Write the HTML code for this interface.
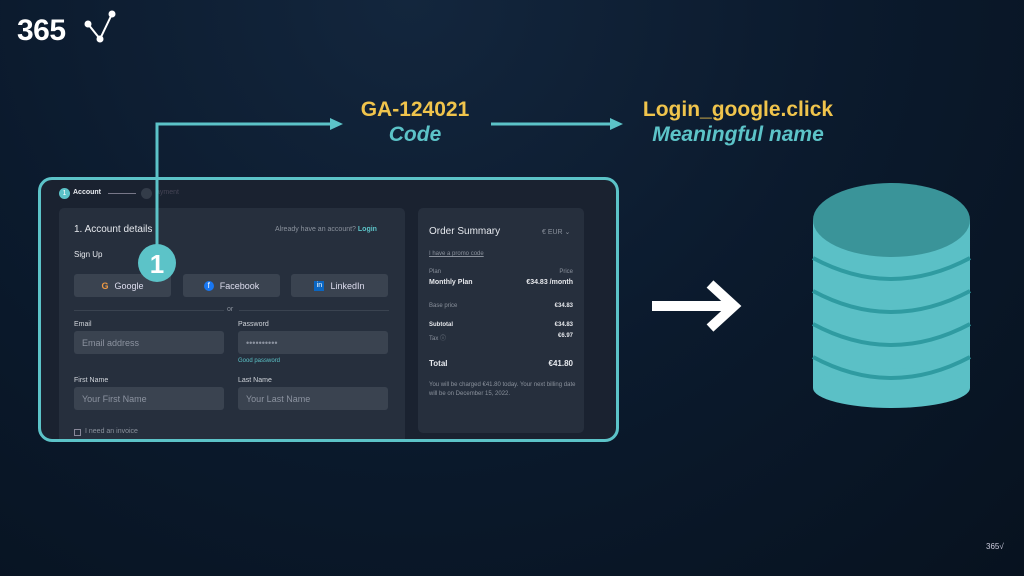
<!DOCTYPE html>
<html><head><style>
*{margin:0;padding:0;box-sizing:border-box}
body{width:1024px;height:576px;overflow:hidden;background:radial-gradient(ellipse at 40% 0%,#13263d 0%,#0b1a2d 50%,#07121f 100%);font-family:"Liberation Sans",sans-serif;position:relative;color:#e6e9ee}
.a{position:absolute}
.panel{left:38px;top:177px;width:581px;height:265px;border:3px solid #5cc3c8;border-radius:14px;background:#1a2230;overflow:hidden}
.card{background:#262f3d;border-radius:5px}
.btn{background:#3a4350;border-radius:3px;height:23px;font-size:9px;color:#dde;display:flex;align-items:center;justify-content:center;gap:6px}
.inp{background:#3a4350;border-radius:3px;height:23px;font-size:9px;color:#8c93a0;padding-left:8px;display:flex;align-items:center}
.lbl{font-size:7px;color:#d0d4da}
.s{font-size:7px;color:#8a919c}
.w{font-size:7px;color:#e6e8ec;font-weight:bold}
</style></head><body>
<div class="a" style="left:17px;top:14px;font-size:30px;font-weight:bold;color:#fff;letter-spacing:-0.5px">365</div>
<svg class="a" style="left:78px;top:6px" width="40" height="40"><path d="M10 18 L22 33 L34 8" stroke="#fff" stroke-width="2" fill="none"/><circle cx="10" cy="18" r="3.5" fill="#fff"/><circle cx="22" cy="33" r="3.5" fill="#fff"/><circle cx="34" cy="8" r="3.5" fill="#fff"/></svg>

<div class="a" style="left:340px;top:98px;width:150px;text-align:center;font-size:21px;font-weight:bold;color:#f0c44c">GA-124021</div>
<div class="a" style="left:340px;top:123px;width:150px;text-align:center;font-size:21px;font-weight:bold;font-style:italic;color:#5cc3c8">Code</div>
<div class="a" style="left:618px;top:98px;width:240px;text-align:center;font-size:21px;font-weight:bold;color:#f0c44c">Login_google.click</div>
<div class="a" style="left:618px;top:123px;width:240px;text-align:center;font-size:21px;font-weight:bold;font-style:italic;color:#5cc3c8">Meaningful name</div>

<div class="a panel">
 <div class="a" style="left:18px;top:8px;width:11px;height:11px;border-radius:50%;background:#5cc3c8;font-size:7px;color:#fff;text-align:center;line-height:11px">1</div>
 <div class="a" style="left:32px;top:9px;font-size:7px;font-weight:bold">Account</div>
 <div class="a" style="left:67px;top:13px;width:28px;height:1px;background:#778"></div>
 <div class="a" style="left:100px;top:8px;width:11px;height:11px;border-radius:50%;background:#333c49"></div>
 <div class="a" style="left:115px;top:9px;font-size:7px;color:#445">ayment</div>
 <div class="a card" style="left:18px;top:28px;width:346px;height:240px">
  <div class="a" style="left:15px;top:16px;font-size:10px">1. Account details</div>
  <div class="a s" style="left:216px;top:18px">Already have an account? <b style="color:#5cc3c8">Login</b></div>
  <div class="a" style="left:15px;top:42px;font-size:8px">Sign Up</div>
  <div class="a btn" style="left:15px;top:66px;width:97px"><b style="color:#e94">G</b>Google</div>
  <div class="a btn" style="left:124px;top:66px;width:97px"><span style="background:#1877f2;border-radius:50%;width:10px;height:10px;font-size:8px;line-height:10px;text-align:center;color:#fff">f</span>Facebook</div>
  <div class="a btn" style="left:232px;top:66px;width:97px"><span style="background:#0a66c2;width:10px;height:10px;font-size:7px;line-height:10px;text-align:center;color:#fff">in</span>LinkedIn</div>
  <div class="a" style="left:15px;top:102px;width:150px;height:1px;background:#3a4350"></div>
  <div class="a s" style="left:168px;top:98px">or</div>
  <div class="a" style="left:180px;top:102px;width:150px;height:1px;background:#3a4350"></div>
  <div class="a lbl" style="left:15px;top:113px">Email</div>
  <div class="a lbl" style="left:179px;top:113px">Password</div>
  <div class="a inp" style="left:15px;top:123px;width:150px">Email address</div>
  <div class="a inp" style="left:179px;top:123px;width:150px">••••••••••</div>
  <div class="a" style="left:179px;top:150px;font-size:6px;color:#5cc3c8">Good password</div>
  <div class="a lbl" style="left:15px;top:169px">First Name</div>
  <div class="a lbl" style="left:179px;top:169px">Last Name</div>
  <div class="a inp" style="left:15px;top:179px;width:150px">Your First Name</div>
  <div class="a inp" style="left:179px;top:179px;width:150px">Your Last Name</div>
  <div class="a" style="left:15px;top:221px;width:7px;height:7px;border:1px solid #889"></div>
  <div class="a s" style="left:26px;top:220px">I need an invoice</div>
 </div>
 <div class="a card" style="left:377px;top:28px;width:166px;height:225px">
  <div class="a" style="left:11px;top:18px;font-size:10px">Order Summary</div>
  <div class="a s" style="left:124px;top:20px">€ EUR ⌄</div>
  <div class="a s" style="left:11px;top:43px;font-size:6px;text-decoration:underline">I have a promo code</div>
  <div class="a s" style="left:11px;top:61px;font-size:6px">Plan</div><div class="a s" style="right:11px;top:61px;font-size:6px">Price</div>
  <div class="a w" style="left:11px;top:71px">Monthly Plan</div><div class="a w" style="right:11px;top:71px">€34.83 /month</div>
  <div class="a s" style="left:11px;top:95px;font-size:6px">Base price</div><div class="a w" style="right:11px;top:95px;font-size:6px">€34.83</div>
  <div class="a w" style="left:11px;top:114px;font-size:6px">Subtotal</div><div class="a w" style="right:11px;top:114px;font-size:6px">€34.83</div>
  <div class="a s" style="left:11px;top:125px;font-size:6px">Tax ⓘ</div><div class="a w" style="right:11px;top:125px;font-size:6px">€6.97</div>
  <div class="a" style="left:11px;top:151px;font-size:8px;font-weight:bold">Total</div><div class="a" style="right:11px;top:151px;font-size:8px;font-weight:bold">€41.80</div>
  <div class="a s" style="left:11px;top:173px;width:150px;font-size:6px;line-height:9px">You will be charged €41.80 today. Your next billing date will be on December 15, 2022.</div>
 </div>
</div>

<svg class="a" style="left:0;top:0" width="1024" height="576">
 <path d="M157 250 V124 H332" stroke="#5cc3c8" stroke-width="3" fill="none"/>
 <polygon points="330,118 343,124 330,130" fill="#5cc3c8"/>
 <path d="M491 124 H612" stroke="#5cc3c8" stroke-width="3" fill="none"/>
 <polygon points="610,118 623,124 610,130" fill="#5cc3c8"/>
 <circle cx="157" cy="263" r="19" fill="#5cc3c8"/>
 <text x="157" y="273" text-anchor="middle" font-family="Liberation Sans" font-weight="bold" font-size="26" fill="#fff">1</text>
 <path d="M652 306 H730 M710 284 L734 306 L710 328" stroke="#fff" stroke-width="10" fill="none"/>
 <rect x="813" y="220" width="157" height="168" fill="#5bc0c6"/>
 <ellipse cx="891.5" cy="388" rx="78.5" ry="20" fill="#5bc0c6"/>
 <g stroke="#2f9ba1" stroke-width="4" fill="none">
  <path d="M813 258 Q891 300 970 258"/><path d="M813 291 Q891 333 970 291"/><path d="M813 324 Q891 366 970 324"/><path d="M813 357 Q891 399 970 357"/>
 </g>
 <ellipse cx="891.5" cy="220" rx="78.5" ry="37" fill="#3a9499"/>
 <text x="986" y="549" font-family="Liberation Sans" font-size="8" fill="#ccd">365√</text>
</svg>
</body></html>
